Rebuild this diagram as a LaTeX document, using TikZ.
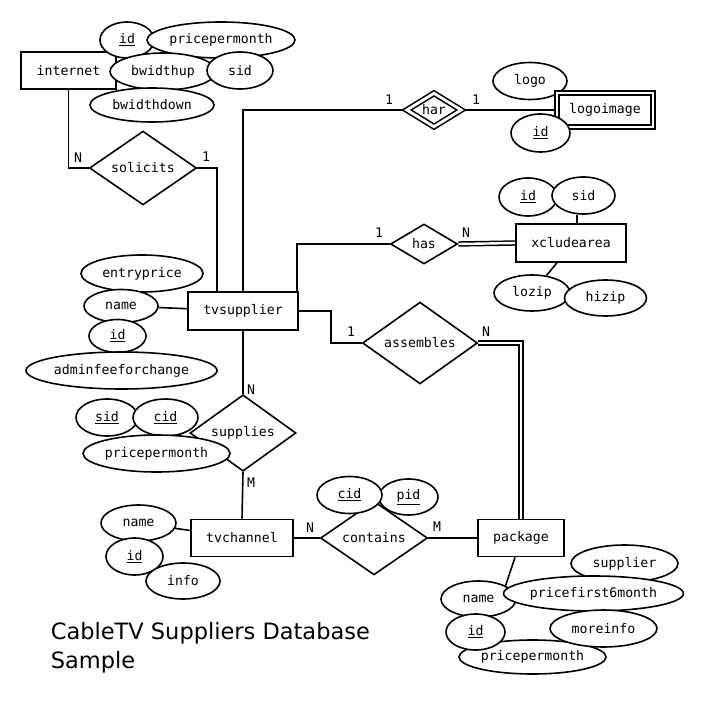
\documentclass[tikz,border=0pt]{standalone}
\usepackage{fontspec}
\setmonofont{DejaVu Sans Mono}
\newfontfamily\titlefont{DejaVu Sans}
\usetikzlibrary{shapes.geometric,backgrounds}
\begin{document}
\begin{tikzpicture}[x=1pt,y=-1pt, line width=1.6pt,
  every node/.style={font=\fontsize{13.2}{15}\selectfont\ttfamily},
  ent/.style={draw, fill=white, rectangle, inner sep=0pt},
  weakent/.style={ent, double, double distance=2pt},
  rel/.style={draw, fill=white, diamond, inner sep=0pt},
  weakrel/.style={rel, double, double distance=2.8pt},
  attr/.style={draw, fill=white, ellipse, inner sep=0pt},
  card/.style={inner sep=0pt},
  conn/.style={line width=1.6pt},
  dbl/.style={double, double distance=2.4pt, line width=1.5pt}]
\useasboundingbox (0,0) rectangle (725,708);

% entities
\node[ent, minimum width=95, minimum height=37] (internet) at (68.5,70.5) {internet};
\node[ent, minimum width=110, minimum height=38] (tvsup) at (243,311) {tvsupplier};
\node[attr, minimum width=74, minimum height=37] (logo) at (530,81) {logo};
\node[weakent, minimum width=96, minimum height=34] (logoimg) at (605,110) {logoimage};
\node[ent, minimum width=110, minimum height=38] (xclude) at (571,243) {xcludearea};
\node[ent, minimum width=102, minimum height=37] (tvch) at (242,538) {tvchannel};
\node[ent, minimum width=86, minimum height=37] (pkg) at (521,538) {package};

% relationships
\node[rel, minimum width=107, minimum height=64] (solicits) at (143,168) {solicits};
\node[weakrel, minimum width=55, minimum height=33] (har) at (434,110) {har};
\node[rel, minimum width=67, minimum height=40] (has) at (424,244) {has};
\node[rel, minimum width=115, minimum height=68] (assembles) at (420,343) {assembles};
\node[rel, minimum width=106, minimum height=62] (supplies) at (243,433) {supplies};
\node[rel, minimum width=107, minimum height=69] (contains) at (374,538) {contains};

% attributes: internet
\node[attr, minimum width=54, minimum height=36] (iid) at (127,40) {\underline{id}};
\node[attr, minimum width=148, minimum height=36] (ippm) at (221,40) {pricepermonth};
\node[attr, minimum width=106, minimum height=37] (ibup) at (163,71.5) {bwidthup};
\node[attr, minimum width=66, minimum height=37] (isid) at (240,70.5) {sid};
\node[attr, minimum width=124, minimum height=34] (ibdown) at (152,105) {bwidthdown};

% attributes: logoimage
\node[attr, minimum width=59, minimum height=38] (lid) at (540.5,133) {\underline{id}};

% attributes: xcludearea
\node[attr, minimum width=58, minimum height=38] (xid) at (528,197) {\underline{id}};
\node[attr, minimum width=63, minimum height=37] (xsid) at (583.5,195.5) {sid};
\node[attr, minimum width=76, minimum height=36] (lozip) at (532,293) {lozip};
\node[attr, minimum width=82, minimum height=36] (hizip) at (605.5,298) {hizip};

% attributes: tvsupplier
\node[attr, minimum width=122, minimum height=37] (tentry) at (142,273.5) {entryprice};
\node[attr, minimum width=74, minimum height=33] (tname) at (121,306) {name};
\node[attr, minimum width=57, minimum height=33] (tid) at (117.5,336) {\underline{id}};
\node[attr, minimum width=179, minimum height=37] (tadmin) at (121.5,370.5) {adminfeeforchange};

% attributes: supplies
\node[attr, minimum width=62, minimum height=37] (ssid) at (107,417.5) {\underline{sid}};
\node[attr, minimum width=65, minimum height=37] (scid) at (165.5,417.5) {\underline{cid}};
\node[attr, minimum width=147, minimum height=37] (sppm) at (156.5,453.5) {pricepermonth};

% attributes: contains
\node[attr, minimum width=59, minimum height=36] (cpid) at (408.5,497) {\underline{pid}};
\node[attr, minimum width=65, minimum height=37] (ccid) at (349.5,495) {\underline{cid}};

% attributes: tvchannel
\node[attr, minimum width=75, minimum height=36] (chname) at (138.5,523) {name};
\node[attr, minimum width=57, minimum height=37] (chid) at (134.5,556.5) {\underline{id}};
\node[attr, minimum width=74, minimum height=36] (chinfo) at (183,581) {info};

% attributes: package
\node[attr, minimum width=107, minimum height=37] (psupp) at (624.5,563.5) {supplier};
\node[attr, minimum width=75, minimum height=36] (pname) at (478.5,599) {name};
\node[attr, minimum width=171, minimum height=35] (pp6) at (593.5,593.5) {pricefirst6month};
\node[attr, minimum width=147, minimum height=34] (pppm) at (532.5,657) {pricepermonth};
\node[attr, minimum width=59, minimum height=36] (pid) at (475.5,632) {\underline{id}};
\node[attr, minimum width=107, minimum height=37] (pmore) at (603.5,628.5) {moreinfo};

% cardinalities
\node[card] (c1) at (78,158) {N};
\node[card] (c2) at (206,157) {1};
\node[card] (c3) at (389,100) {1};
\node[card] (c4) at (476,100) {1};
\node[card] (c5) at (379,233) {1};
\node[card] (c6) at (466,233) {N};
\node[card] (c7) at (351,332) {1};
\node[card] (c8) at (486,332) {N};
\node[card] (c9) at (251,390) {N};
\node[card] (c10) at (251,483) {M};
\node[card] (c11) at (310,528) {N};
\node[card] (c12) at (437,527) {M};

% title
\node[anchor=north west, inner sep=0pt, align=left,
      font=\titlefont\fontsize{22.5}{29.5}\selectfont] (title) at (50,621.5)
      {CableTV Suppliers Database\\Sample};

% connectors
\begin{pgfonlayer}{background}
\begin{scope}[line width=1.6pt]
\draw[conn] (internet.south) |- (solicits.west);
\draw[conn] (solicits.east) -| ([xshift=-26pt]tvsup.north);
\draw[conn] (tvsup.north) |- (har.west);
\draw[conn] (har.east) -- (logoimg.west);
\draw[conn] ([xshift=54pt]tvsup.north) |- (has.west);
\draw[dbl] (has.east) -- (xclude.west);
\draw[conn] (tvsup.east) -- ++(32,0) |- (assembles.west);
\draw[dbl] (assembles.east) -| (pkg.north);
\draw[conn] (tvsup.south) -- (supplies.north);
\draw[conn] (supplies.south) -- (tvch.north);
\draw[conn] (tvch.east) -- (contains.west);
\draw[conn] (contains.east) -- (pkg.west);
\draw[conn] (tname) -- (tvsup);
\draw[conn] (chname) -- (tvch);
\draw[conn] ([xshift=-6pt]pkg.south) -- (pname.north east);
\draw[conn] ([xshift=-6.5pt]xsid.south) -- ([xshift=-6.5pt]xsid.south |- xclude.north);
\draw[conn] ([xshift=-14pt]xclude.south) -- (lozip);
\end{scope}
\end{pgfonlayer}
\end{tikzpicture}
\end{document}
